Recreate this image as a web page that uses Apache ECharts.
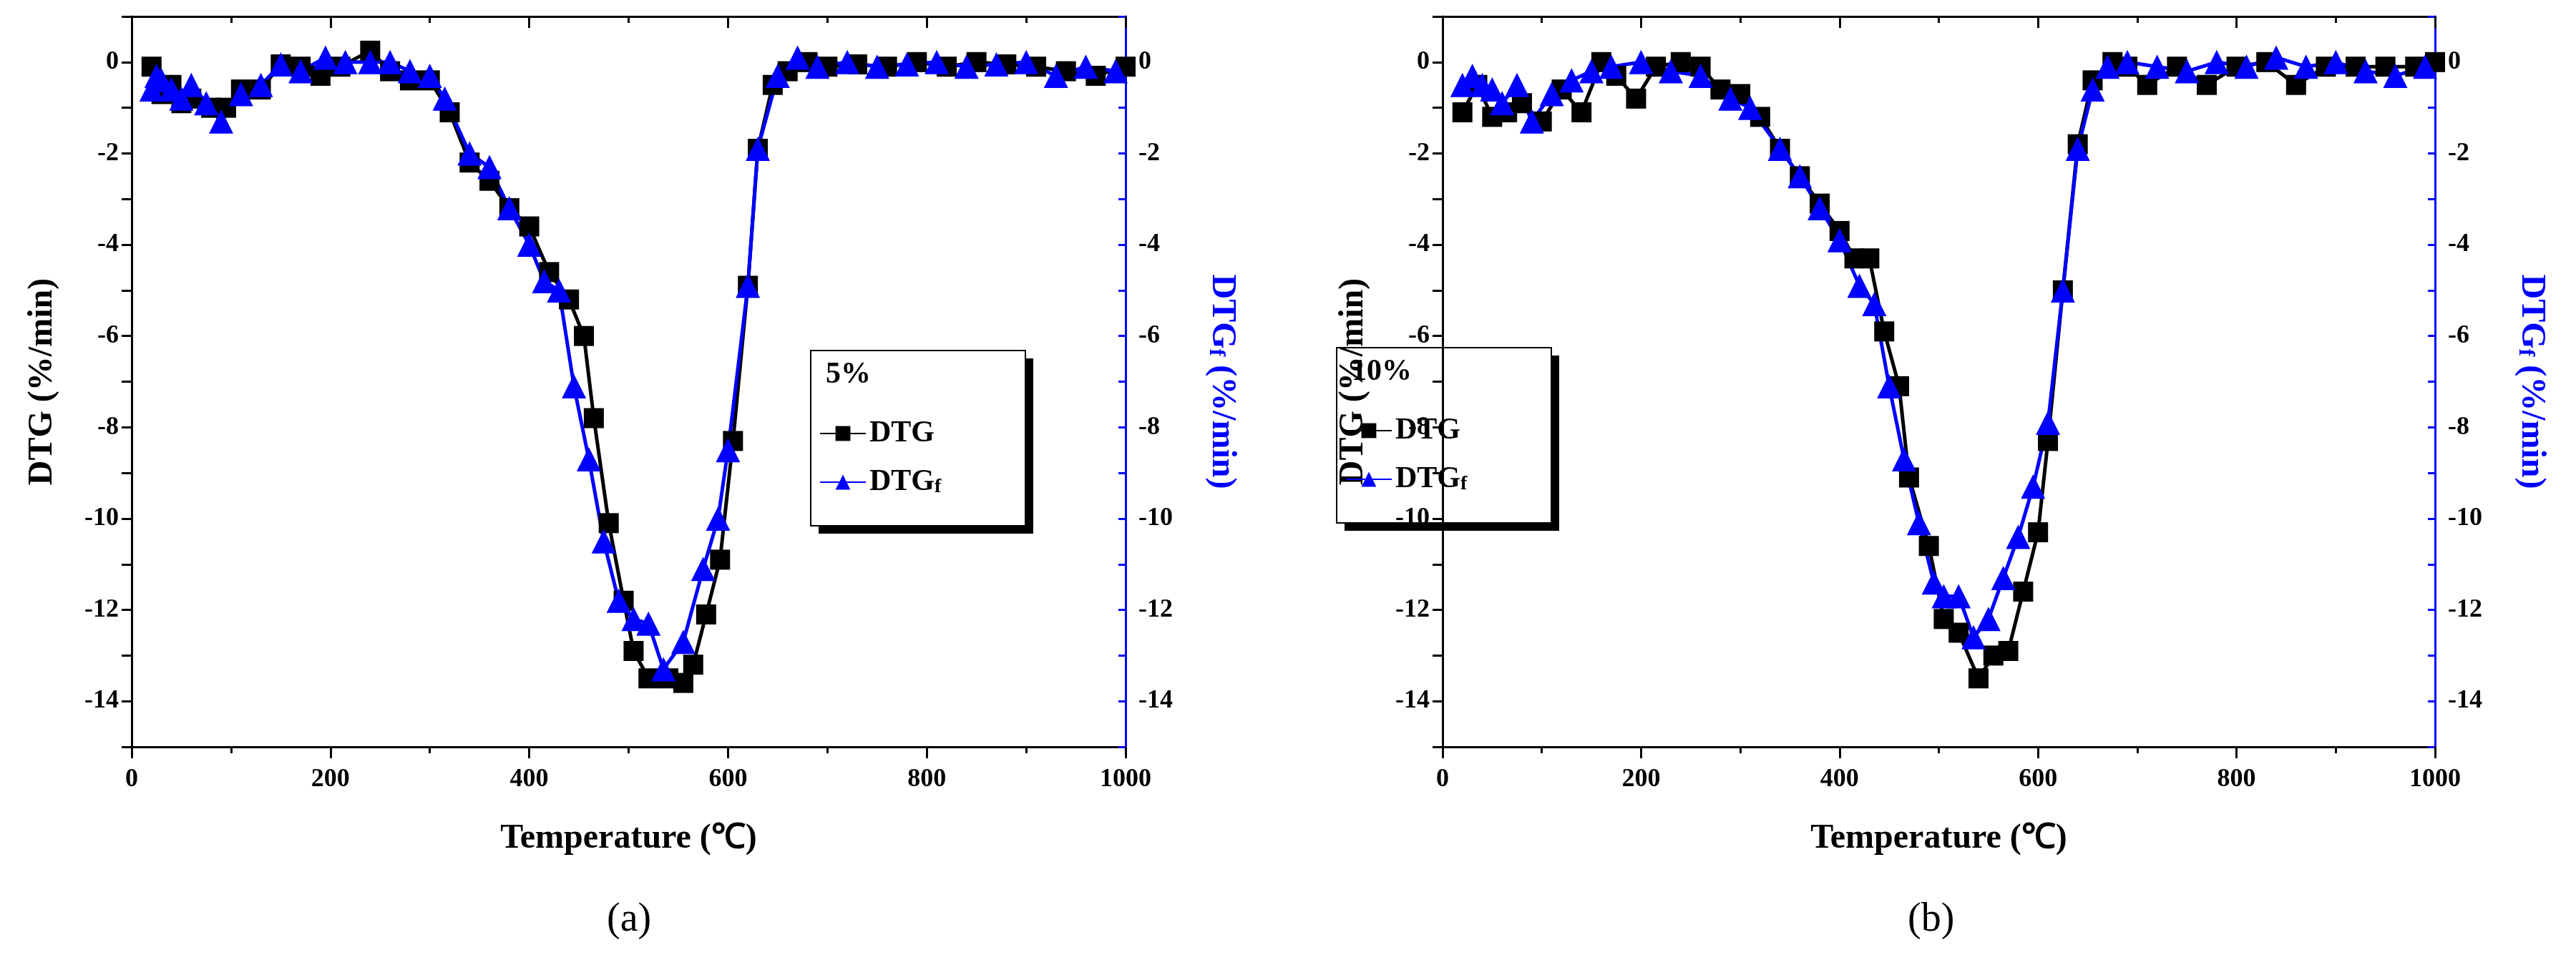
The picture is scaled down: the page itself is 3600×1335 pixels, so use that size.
<!DOCTYPE html>
<html>
<head>
<meta charset="utf-8">
<title>DTG</title>
<script src="https://cdn.jsdelivr.net/npm/echarts@6/dist/echarts.min.js"></script>
<style>
  html, body { margin: 0; padding: 0; background: #fff; }
  #main { width: 3600px; height: 1335px; }
</style>
</head>
<body>
<div id="main"></div>
<script>
// 数据 (a) 5%
const aDtgX = [20, 30, 40, 50, 60, 80, 95, 110, 130, 150, 170, 190, 210, 240, 260, 280, 300, 320, 340, 360, 380, 400, 420, 440, 455, 465, 480, 495, 505, 520, 540, 555, 565, 578, 592, 605, 620, 630, 645, 660, 680, 700, 730, 760, 790, 820, 850, 880, 910, 940, 970, 1000];
const aDtgY = [-0.1, -0.7, -0.5, -0.9, -0.8, -1.0, -1.0, -0.6, -0.6, -0.05, -0.1, -0.3, -0.1, 0.25, -0.2, -0.4, -0.4, -1.1, -2.2, -2.6, -3.2, -3.6, -4.6, -5.2, -6.0, -7.8, -10.1, -11.8, -12.9, -13.5, -13.5, -13.6, -13.2, -12.1, -10.9, -8.3, -4.9, -1.9, -0.5, -0.2, 0, -0.1, -0.05, -0.1, 0, -0.1, 0, -0.05, -0.1, -0.2, -0.3, -0.1];
const aFX = [20, 25, 30, 40, 50, 60, 75, 90, 110, 130, 150, 170, 195, 215, 240, 260, 280, 300, 315, 340, 360, 380, 400, 415, 430, 445, 460, 475, 490, 505, 520, 535, 555, 575, 590, 600, 620, 630, 650, 670, 690, 720, 750, 780, 810, 840, 870, 900, 930, 960, 990];
const aFY = [-0.6, -0.3, -0.4, -0.6, -0.8, -0.5, -0.9, -1.3, -0.7, -0.5, -0.05, -0.2, 0.1, 0, 0, 0, -0.2, -0.3, -0.8, -2.0, -2.3, -3.2, -4.0, -4.8, -5.0, -7.1, -8.7, -10.5, -11.8, -12.2, -12.3, -13.3, -12.7, -11.1, -10.0, -8.5, -4.9, -1.9, -0.3, 0.1, -0.1, 0, -0.1, -0.05, 0, -0.1, -0.05, 0, -0.3, -0.1, -0.2];

// 数据 (b) 10%
const bDtgX = [20, 35, 50, 65, 80, 100, 120, 140, 160, 175, 195, 215, 240, 260, 280, 300, 320, 340, 360, 380, 400, 415, 430, 445, 460, 470, 490, 505, 520, 540, 555, 570, 585, 600, 610, 625, 640, 655, 675, 690, 710, 740, 770, 800, 830, 860, 890, 920, 950, 980, 1000];
const bDtgY = [-1.1, -0.5, -1.2, -1.1, -0.9, -1.3, -0.6, -1.1, 0, -0.3, -0.8, -0.1, 0, -0.1, -0.6, -0.7, -1.2, -1.9, -2.5, -3.1, -3.7, -4.3, -4.3, -5.9, -7.1, -9.1, -10.6, -12.2, -12.5, -13.5, -13.0, -12.9, -11.6, -10.3, -8.3, -5.0, -1.8, -0.4, 0, -0.1, -0.5, -0.1, -0.5, -0.1, 0, -0.5, -0.1, -0.1, -0.1, -0.1, 0];
const bFX = [20, 30, 40, 50, 60, 75, 90, 110, 130, 150, 170, 200, 230, 260, 290, 310, 340, 360, 380, 400, 420, 435, 450, 465, 480, 495, 505, 520, 535, 550, 565, 580, 595, 610, 625, 640, 655, 670, 690, 720, 750, 780, 810, 840, 870, 900, 930, 960, 990];
const bFY = [-0.5, -0.3, -0.5, -0.6, -0.9, -0.5, -1.3, -0.7, -0.4, -0.2, -0.1, 0, -0.2, -0.3, -0.8, -1.0, -1.9, -2.5, -3.2, -3.9, -4.9, -5.3, -7.1, -8.7, -10.1, -11.4, -11.7, -11.7, -12.6, -12.2, -11.3, -10.4, -9.3, -7.9, -5.0, -1.9, -0.6, -0.1, 0, -0.1, -0.2, 0, -0.1, 0.1, -0.1, 0, -0.2, -0.3, -0.1];

const serif = 'Liberation Serif';
const pairs = (xs, ys) => xs.map((x, i) => [x, ys[i]]);

const grids = [
  { left: 184, width: 1389, top: 23, height: 1021 },
  { left: 2016, width: 1387, top: 23, height: 1021 }
];

function xAxisFor(i) {
  return {
    gridIndex: i, type: 'value', min: 0, max: 1000, interval: 200,
    name: 'Temperature (℃)', nameLocation: 'middle', nameGap: 105,
    nameTextStyle: { fontFamily: serif, fontWeight: 'bold', fontSize: 48, color: '#000' },
    axisLine: { onZero: false, lineStyle: { color: '#000', width: 3 } },
    axisTick: { inside: false, length: 16, lineStyle: { color: '#000', width: 3 } },
    minorTick: { show: true, splitNumber: 2, length: 9, lineStyle: { color: '#000', width: 3 } },
    axisLabel: { fontFamily: serif, fontWeight: 'bold', fontSize: 36, color: '#000', margin: 28,
      formatter: v => String(v) },
    splitLine: { show: false }
  };
}
function xTopFor(i) {
  return {
    gridIndex: i, type: 'value', min: 0, max: 1000, interval: 200, position: 'top',
    axisLine: { onZero: false, lineStyle: { color: '#000', width: 3 } },
    axisTick: { inside: true, length: 16, lineStyle: { color: '#000', width: 3 } },
    minorTick: { show: true, splitNumber: 2, length: 9, lineStyle: { color: '#000', width: 3 } },
    axisLabel: { show: false }, splitLine: { show: false }
  };
}
function yLeft(i) {
  return {
    gridIndex: i, type: 'value', min: -15, max: 1, interval: 1, position: 'left',
    name: 'DTG (%/min)', nameLocation: 'middle', nameGap: 100,
    nameTextStyle: { fontFamily: serif, fontWeight: 'bold', fontSize: 48, color: '#000' },
    axisLine: { onZero: false, lineStyle: { color: '#000', width: 3 } },
    axisTick: { length: 14, lineStyle: { color: '#000', width: 3 } },
    axisLabel: { fontFamily: serif, fontWeight: 'bold', fontSize: 36, color: '#000', margin: 18,
      formatter: v => (v % 2 === 0 ? v : '') },
    splitLine: { show: false }
  };
}
function yRight(i) {
  return {
    gridIndex: i, type: 'value', min: -15, max: 1, interval: 1, position: 'right',
    name: 'DTG{s|f} (%/min)', nameLocation: 'middle', nameGap: 110, nameRotate: -90,
    nameTextStyle: { fontFamily: serif, fontWeight: 'bold', fontSize: 48, color: '#0000ff',
      rich: { s: { fontFamily: serif, fontWeight: 'bold', fontSize: 32, color: '#0000ff', verticalAlign: 'bottom' } } },
    axisLine: { onZero: false, lineStyle: { color: '#0000ff', width: 3 } },
    axisTick: { inside: true, length: 10, lineStyle: { color: '#0000ff', width: 3 } },
    axisLabel: { fontFamily: serif, fontWeight: 'bold', fontSize: 36, color: '#000', margin: 18,
      formatter: v => (v % 2 === 0 ? v : '') },
    splitLine: { show: false }
  };
}

function line(name, data, xi, yi, color, symbol) {
  return {
    name: name, type: 'line', xAxisIndex: xi, yAxisIndex: yi, data: data,
    symbol: symbol, symbolSize: symbol === 'rect' ? 28 : 34,
    itemStyle: { color: color }, lineStyle: { color: color, width: 5 },
    animation: false
  };
}

const chart = echarts.init(document.getElementById('main'));

function legendBox(left, top, label) {
  return [
    { type: 'rect', left: left + 12, top: top + 12, shape: { width: 300, height: 245 }, style: { fill: '#000' } },
    { type: 'rect', left: left, top: top, shape: { width: 300, height: 245 }, style: { fill: '#fff', stroke: '#000', lineWidth: 2 } },
    { type: 'text', left: left + 22, top: top + 14, style: { text: label, font: 'bold 42px "Liberation Serif"', fill: '#000' } }
  ];
}

const legendText = {
  fontFamily: serif, fontWeight: 'bold', fontSize: 42, color: '#000',
  rich: { s: { fontFamily: serif, fontWeight: 'bold', fontSize: 28, verticalAlign: 'bottom' } }
};

chart.setOption({
  backgroundColor: '#fff',
  grid: grids,
  xAxis: [xAxisFor(0), xAxisFor(1), xTopFor(0), xTopFor(1)],
  yAxis: [yLeft(0), yRight(0), yLeft(1), yRight(1)],
  legend: [
    { data: ['DTG', 'DTGf'], orient: 'vertical', left: 1140, top: 580, itemWidth: 64, itemHeight: 26, itemGap: 26,
      formatter: n => n === 'DTGf' ? 'DTG{s|f}' : n, textStyle: legendText },
    { data: ['DTG ', 'DTGf '], orient: 'vertical', left: 1875, top: 576, itemWidth: 64, itemHeight: 26, itemGap: 26,
      formatter: n => n === 'DTGf ' ? 'DTG{s|f}' : n, textStyle: legendText }
  ],
  graphic: [
    ...legendBox(1132, 489, '5%'),
    ...legendBox(1867, 485, '10%'),
    { type: 'text', left: 848, top: 1258, style: { text: '(a)', font: '56px "Liberation Serif"', rich: {}, fill: '#000' } },
    { type: 'text', left: 2666, top: 1258, style: { text: '(b)', font: '56px "Liberation Serif"', fill: '#000' } }
  ],
  series: [
    line('DTG', pairs(aDtgX, aDtgY), 0, 0, '#000', 'rect'),
    line('DTGf', pairs(aFX, aFY), 0, 1, '#0000ff', 'triangle'),
    line('DTG ', pairs(bDtgX, bDtgY), 1, 2, '#000', 'rect'),
    line('DTGf ', pairs(bFX, bFY), 1, 3, '#0000ff', 'triangle')
  ]
});
</script>
</body>
</html>
